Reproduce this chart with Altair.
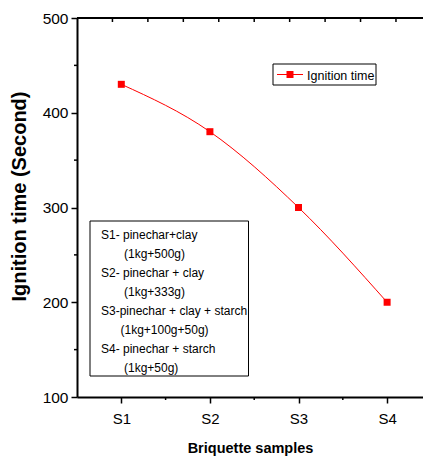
import altair as alt
import pandas as pd

# ---- data ----
samples = ["S1", "S2", "S3", "S4"]
ignition = [430, 380, 300, 200]
y_ticks = [100, 200, 300, 400, 500]
y_minor = [150, 250, 350, 450]
top_ticks = [0.9, 1.3, 1.7, 2.1, 2.5, 2.9, 3.3, 3.7, 4.1]
legend_label = "Ignition time"
note_lines = [
    "S1- pinechar+clay",
    "(1kg+500g)",
    "S2- pinechar + clay",
    "(1kg+333g)",
    "S3-pinechar + clay + starch",
    "(1kg+100g+50g)",
    "S4- pinechar + starch",
    "(1kg+50g)",
]
x_title = "Briquette samples"
y_title = "Ignition time (Second)"

# ---- layout ----
W, H = 346, 379
RED = "#ff0000"
FONT = "Liberation Sans, Arial, sans-serif"

idx = list(range(1, len(samples) + 1))
df = pd.DataFrame({"idx": idx, "sample": samples, "t": ignition})
minor_x = pd.DataFrame({"idx": [i + 0.5 for i in idx[:-1]]})
top_df = pd.DataFrame({"idx": top_ticks})
ymin_df = pd.DataFrame({"t": y_minor})

xscale = alt.Scale(domain=[0.5, 4.405], nice=False, zero=False)
yscale = alt.Scale(domain=[100, 500], nice=False, zero=False)

label_expr = "[" + ",".join(f"'{s}'" for s in samples) + "][datum.value - 1]"

xenc = alt.X(
    "idx:Q", scale=xscale,
    axis=alt.Axis(
        values=idx, labelExpr=label_expr, title=x_title, grid=False,
        tickSize=6, tickWidth=1.5, tickColor="black",
        domainColor="black", domainWidth=2,
        labelFont=FONT, labelFontSize=15, labelColor="black", labelPadding=8,
        titleFont=FONT, titleFontSize=14.5, titleFontWeight="bold", titleColor="black",
        titleBaseline="top", titleY=44, titleX=W / 2,
    ),
)
yenc = alt.Y(
    "t:Q", scale=yscale,
    axis=alt.Axis(
        values=y_ticks, title=y_title, grid=False,
        tickSize=6, tickWidth=1.5, tickColor="black",
        domainColor="black", domainWidth=2,
        labelFont=FONT, labelFontSize=15.5, labelColor="black", labelPadding=3,
        titleFont=FONT, titleFontSize=20, titleFontWeight="bold", titleColor="black",
        titleBaseline="bottom", titleX=-48, titleY=178, titleAngle=-90,
    ),
)

base = alt.Chart(df)
line = base.mark_line(color=RED, strokeWidth=1, interpolate="monotone").encode(x=xenc, y=yenc)
pts = base.mark_point(shape="square", filled=True, size=49, color=RED, opacity=1).encode(x=xenc, y=yenc)

one = alt.Data(values=[{"a": 1}])

bottom_minor = alt.Chart(minor_x).mark_rule(color="black", strokeWidth=1.5).encode(
    x=xenc, y=alt.value(H), y2=alt.value(H + 3))
top_minor = alt.Chart(top_df).mark_rule(color="black", strokeWidth=1.5).encode(
    x=xenc, y=alt.value(0), y2=alt.value(4))
left_minor = alt.Chart(ymin_df).mark_rule(color="black", strokeWidth=1.5).encode(
    y=yenc, x=alt.value(-3), x2=alt.value(0))
top_border = alt.Chart(one).mark_rule(color="black", strokeWidth=2).encode(
    x=alt.value(0), x2=alt.value(W), y=alt.value(0))

# legend box
LX0, LX1, LY0, LY1 = 196, 299, 46, 67
leg_box = alt.Chart(one).mark_rect(fill="white", stroke="black", strokeWidth=1).encode(
    x=alt.value(LX0), x2=alt.value(LX1), y=alt.value(LY0), y2=alt.value(LY1))
leg_line = alt.Chart(one).mark_rule(color=RED, strokeWidth=1).encode(
    x=alt.value(LX0 + 4), x2=alt.value(LX0 + 30), y=alt.value((LY0 + LY1) / 2))
leg_pt = alt.Chart(one).mark_point(shape="square", filled=True, size=49, color=RED, opacity=1).encode(
    x=alt.value(LX0 + 17), y=alt.value((LY0 + LY1) / 2))
leg_txt = alt.Chart(one).mark_text(
    text=legend_label, font=FONT, fontSize=12.5, align="left", baseline="middle", color="black"
).encode(x=alt.value(LX0 + 34), y=alt.value((LY0 + LY1) / 2 + 1))

# notes box
NX0, NX1, NY0, NY1 = 13, 171.5, 203, 358
note_box = alt.Chart(one).mark_rect(fill="white", stroke="black", strokeWidth=1).encode(
    x=alt.value(NX0), x2=alt.value(NX1), y=alt.value(NY0), y2=alt.value(NY1))
note_layers = []
for i, s in enumerate(note_lines):
    if s.startswith("("):
        xo = 43.5 if "100g" in s else 47
    else:
        xo = 24
    note_layers.append(
        alt.Chart(one).mark_text(
            text=s, font=FONT, fontSize=12, align="left", baseline="middle", color="black"
        ).encode(x=alt.value(xo), y=alt.value(217 + 19 * i))
    )

chart = alt.layer(
    line, pts, bottom_minor, top_minor, left_minor, top_border,
    note_box, *note_layers, leg_box, leg_line, leg_pt, leg_txt,
).properties(
    width=W, height=H,
    autosize=alt.AutoSizeParams(type="none"),
    padding={"left": 77, "top": 18, "right": 0, "bottom": 64},
    background="white",
).configure_view(stroke=None)

chart.save("out.html", embed_options={"renderer": "svg", "actions": False})
